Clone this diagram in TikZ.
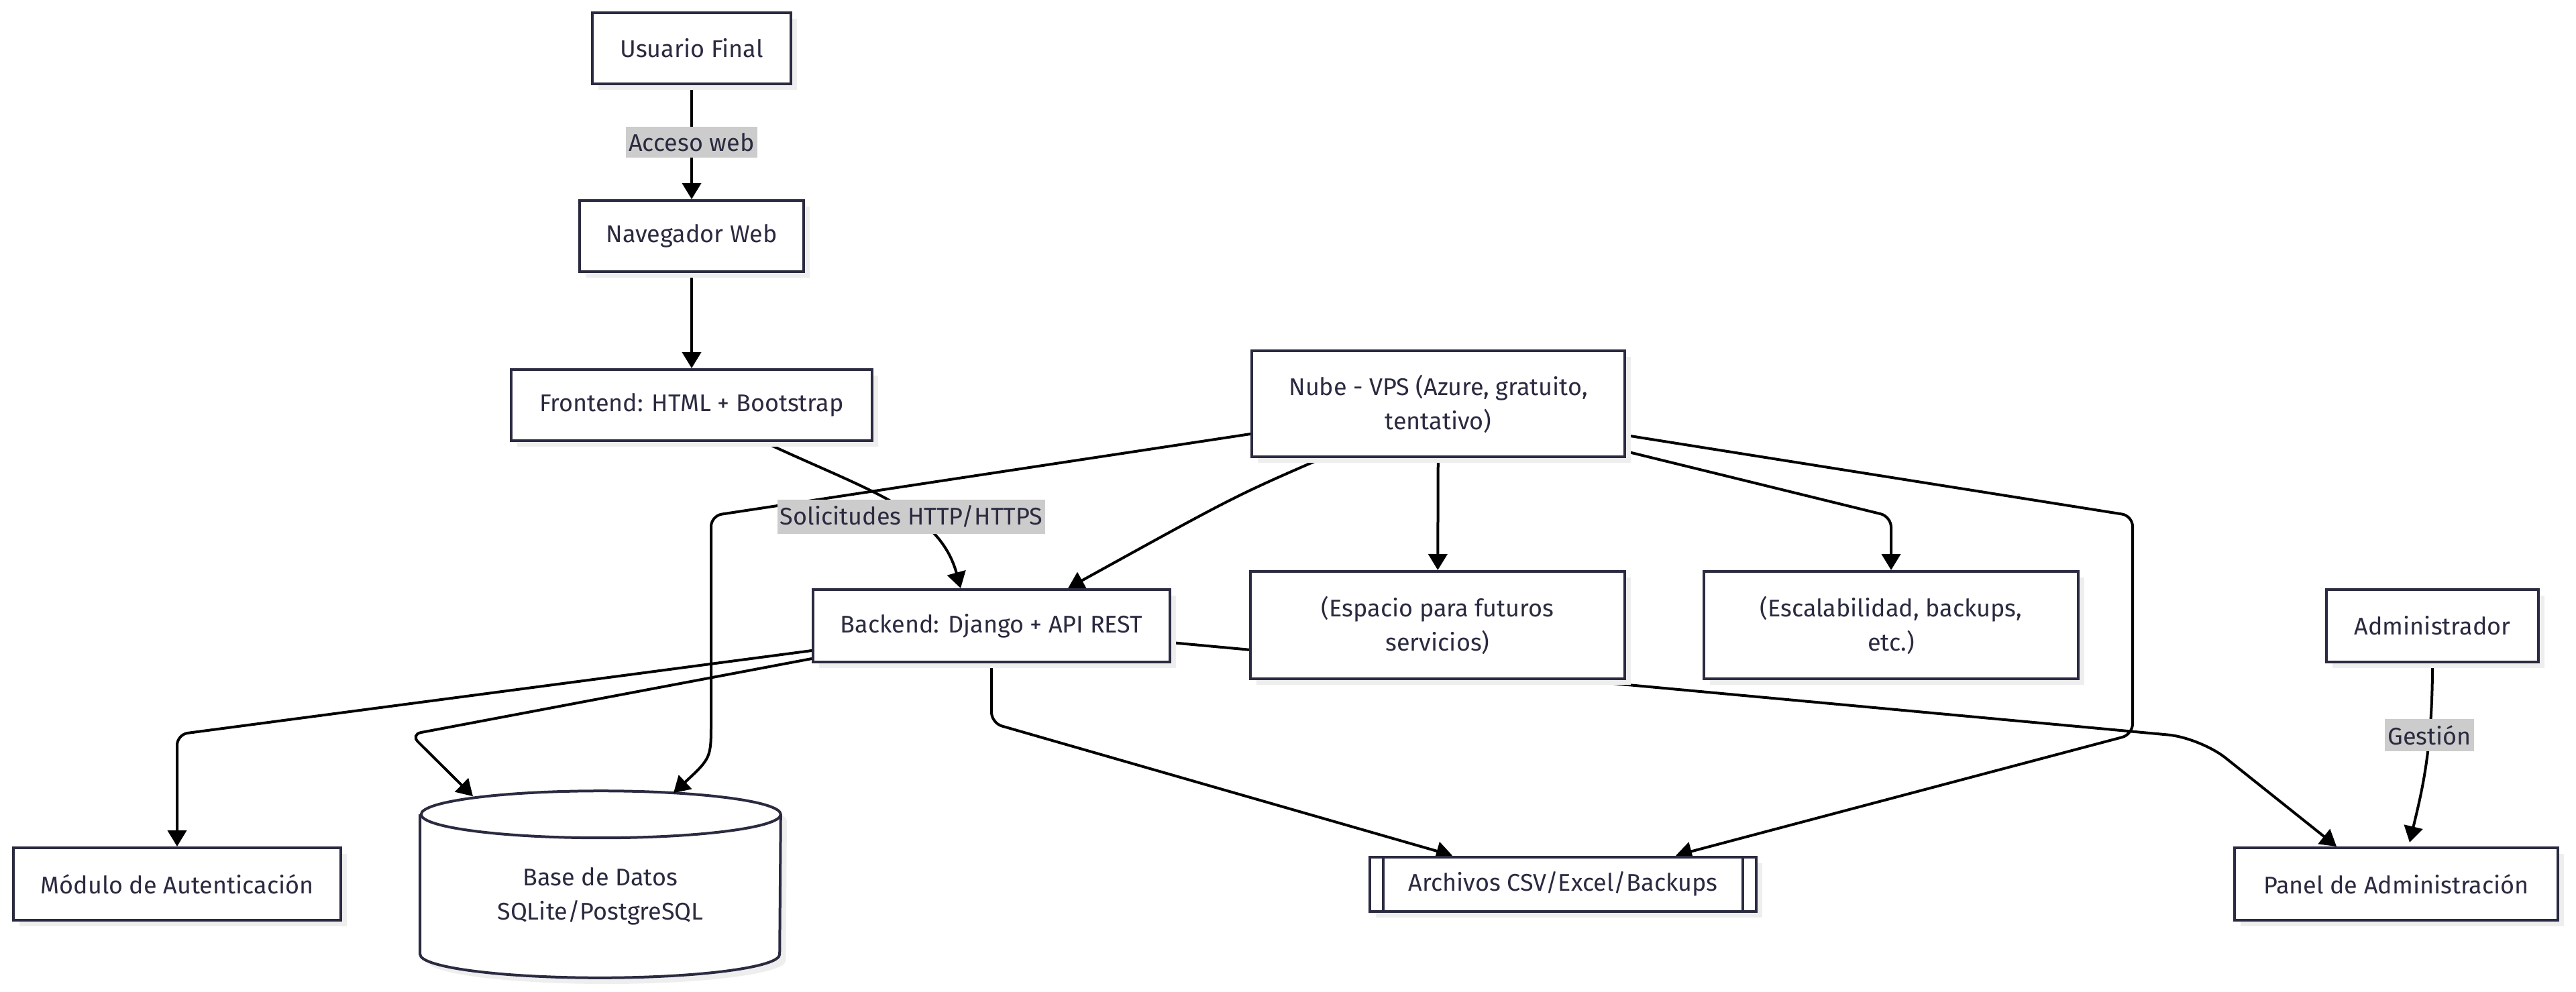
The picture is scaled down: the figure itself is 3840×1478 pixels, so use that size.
\documentclass[tikz,border=0pt]{standalone}
\usepackage{fontspec}
\setmainfont{Fira Sans}
\usetikzlibrary{arrows.meta,calc,shadows,backgrounds}
\definecolor{ink}{HTML}{2A2A40}
\definecolor{lblgrey}{HTML}{CCCCCC}
\definecolor{shade}{HTML}{EEEEEE}

\begin{document}
\begin{tikzpicture}[x=0.25pt,y=-0.25pt,
    shadowed/.style={drop shadow={shadow xshift=2.3pt,shadow yshift=-2.3pt,fill=shade,opacity=1}},
    box/.style={draw=ink,fill=white,line width=1pt,text=ink,align=center,inner sep=0pt,
        font=\fontsize{9}{12.8}\selectfont,shadowed},
    sub/.style={box,path picture={
        \draw[ink,line width=1pt] ([xshift=5pt]path picture bounding box.north west) -- ([xshift=5pt]path picture bounding box.south west)
            ([xshift=-5pt]path picture bounding box.north east) -- ([xshift=-5pt]path picture bounding box.south east);}},
    lbl/.style={fill=lblgrey,text=ink,sharp corners,inner xsep=1pt,inner ysep=2.3pt,font=\fontsize{9}{10}\selectfont},
    flow/.style={line width=1pt,-{Triangle[length=6pt,width=7pt]},rounded corners=4pt}]
    \useasboundingbox (0,0) rectangle (3840,1478);

    \node[box,minimum width=74pt,minimum height=26.5pt] (user) at (1031,72) {Usuario Final};
    \node[box,minimum width=83.5pt,minimum height=26.5pt] (browser) at (1031,352) {Navegador Web};
    \node[box,minimum width=134.5pt,minimum height=26.5pt] (front) at (1031,604) {Frontend: HTML + Bootstrap};
    \node[box,minimum width=139pt,minimum height=39.5pt] (cloud) at (2144,602) {Nube - VPS (Azure, gratuito,\\tentativo)};
    \node[box,minimum width=133pt,minimum height=27pt] (back) at (1478,933) {Backend: Django + API REST};
    \node[box,minimum width=139.5pt,minimum height=40pt] (future) at (2143,932) {(Espacio para futuros\\servicios)};
    \node[box,minimum width=139.5pt,minimum height=40pt] (scale) at (2819,932) {(Escalabilidad, backups,\\etc.)};
    \node[box,minimum width=79pt,minimum height=27pt] (admin) at (3626,933) {Administrador};
    \node[box,minimum width=122pt,minimum height=27pt] (auth) at (264,1318) {Módulo de Autenticación};
    \node[minimum width=134pt,minimum height=69.25pt,inner sep=0pt,
        label={[text=ink,align=center,font=\fontsize{9}{12.8}\selectfont,yshift=-4.5pt]center:{Base de Datos\\SQLite/PostgreSQL}}] (db) at (895,1318.5) {};
    \node[sub,minimum width=144pt,minimum height=20.25pt] (files) at (2330,1318) {Archivos CSV/Excel/Backups};
    \node[box,minimum width=120.5pt,minimum height=27pt] (panel) at (3572,1318) {Panel de Administración};

    \begin{pgfonlayer}{background}
    % database drum
    \draw[draw=ink,fill=white,line width=1pt,shadowed]
        ($(db.north west)+(0,35)$) -- ($(db.south west)+(0,-35)$)
        arc[start angle=180,end angle=360,x radius=67pt,y radius=8.75pt]
        -- ($(db.north east)+(0,35)$)
        arc[start angle=0,end angle=180,x radius=67pt,y radius=8.75pt]
        arc[start angle=180,end angle=360,x radius=67pt,y radius=8.75pt];

    % cloud
    \draw[flow] ($(cloud.west)+(0,45)$) -- (1060,769) -- (1060,1060) .. controls (1060,1130) .. ($(db.north)+(109,3)$);
    \draw[flow] ($(cloud.east)+(0,47)$) -- (3179,769) -- (3179,1095) -- ($(files.north)+(168,0)$);
    \draw[flow] ($(cloud.south)+(-173,0)$) .. controls (1840,740) .. ($(back.north)+(114,0)$);
    \draw[flow] (cloud) -- (future);
    \draw[flow] ($(cloud.south east)+(0,-10)$) -- (scale.north |- 0,770) -- (scale.north);

    % user side
    \draw[flow] (user) -- node[lbl]{Acceso web} (browser);
    \draw[flow] (browser) -- (front);
    \draw[flow] ($(front.south)+(108,0)$) .. controls (1290,730) and (1400,760) .. node[lbl,pos=0.6]{Solicitudes HTTP/HTTPS} ($(back.north)+(-46,0)$);

    % backend
    \draw[flow] ($(back.west)+(0,37)$) -- (auth.north |- 0,1095) -- (auth.north);
    \draw[flow] ($(back.west)+(0,49)$) -- (612,1095) -- ($(db.north)+(-190,8)$);
    \draw[flow] (back.south) -- (back.south |- 0,1078) -- ($(files.north)+(-165,0)$);
    \draw[flow,rounded corners=12pt] ($(back.east)+(0,25)$) -- (3280,1100) -- ($(panel.north)+(-89,0)$);
    % \draw[flow] (back) -- (panel);

    \draw[flow] (admin.south) .. controls (3626,1120) and (3610,1180) .. node[lbl,pos=0.32]{Gestión} ($(panel.north)+(20,-6)$);
    \end{pgfonlayer}
\end{tikzpicture}
\end{document}
